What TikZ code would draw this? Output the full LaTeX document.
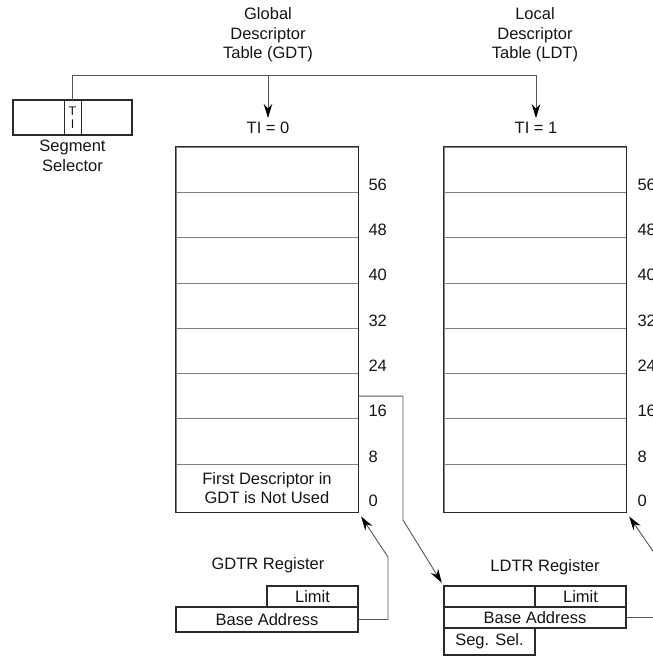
\documentclass[tikz,border=0pt]{standalone}
\usepackage{fontspec}
\setmainfont{Liberation Sans}
\usepackage{xcolor}
\definecolor{dtframe}{HTML}{2A2A2A}
\definecolor{dtrule}{HTML}{808080}
\definecolor{dtlink}{HTML}{555555}
\definecolor{dttext}{HTML}{151515}
\usepackage{tikz}
\usetikzlibrary{arrows.meta,positioning,calc}

\begin{document}
\begin{tikzpicture}[x=1pt,y=-1pt,
  font=\fontsize{16.5}{19.5}\selectfont,text=dttext,
  frame/.style={draw=dtframe,line width=1.3pt},
  slot/.style={draw=dtrule,line width=0.7pt,minimum width=182pt,minimum height=45.3pt,inner sep=0pt,align=center},
  reg/.style={draw=dtframe,line width=1.2pt,minimum height=21pt,inner sep=0pt},
  num/.style={anchor=west,inner sep=0pt},
  link/.style={draw=dtlink,line width=0.9pt},
  tip/.style={-{Stealth[length=14pt,width=8.5pt,color=black]}}]
\useasboundingbox (0,0) rectangle (653,657);
\clip (0,0) rectangle (653,657);

% segment selector and the TI bit
\node[draw=dtframe,line width=1.2pt,minimum width=119pt,minimum height=35pt] (ssel) at (72.5,117.5) {};
\node[draw=dtframe,line width=0.9pt,minimum width=17pt,minimum height=35pt,inner sep=0pt,align=center,font=\fontsize{12.5}{13.5}\selectfont] (tibit) at (ssel.center) {T\\I};
\node[align=center,below=1pt of ssel] (ssellbl) {Segment\\Selector};

% table titles
\node[align=center] (gdtt) at (268,35) {Global\\Descriptor\\Table (GDT)};
\node[align=center] (ldtt) at (535,35) {Local\\Descriptor\\Table (LDT)};
\node[inner sep=4pt] (ti0) at (268,128) {TI = 0};
\node[inner sep=4pt] (ti1) at (536,128) {TI = 1};

% descriptor slots
\foreach \n [count=\i] in {56,48,40,32,24,16,8} {
  \node[slot] (g\n) at (267,{147+45.3*(\i-0.5)}) {};
  \node[slot] (l\n) at (535,{147+45.3*(\i-0.5)}) {};
  \node[num] (gn\n) at ($(g\n.south east)+(10,-8)$) {\n};
  \node[num] (ln\n) at ($(l\n.south east)+(11,-8)$) {\n};
}
\node[slot,minimum height=48pt] (g0) at (267,488) {First Descriptor in\\GDT is Not Used};
\node[slot,minimum height=48pt] (l0) at (535,488) {};
\node[num] (gn0) at ($(g0.south east)+(10,-12)$) {0};
\node[num] (ln0) at ($(l0.south east)+(11,-12)$) {0};
\draw[frame] (g56.north west) rectangle (g0.south east);
\draw[frame] (l56.north west) rectangle (l0.south east);

% GDTR
\node (gdtrlbl) at (268,565) {GDTR Register};
\node[reg,minimum width=91pt] (glim) at (312.5,596.5) {Limit};
\node[reg,minimum width=182pt,minimum height=25pt] (gbase) at (267,619.5) {Base Address};

% LDTR
\node (ldtrlbl) at (545,567) {LDTR Register};
\node[reg,minimum width=91pt] (ldtrl) at (489.5,596.5) {};
\node[reg,minimum width=91pt] (llim) at (580.5,596.5) {Limit};
\node[reg,minimum width=182pt] (lbase) at (535,617.5) {Base Address};
\node[reg,minimum width=91pt,minimum height=27pt] (lsel) at (489.5,641.5) {Seg. Sel.};

% connectors
\coordinate (bus) at (0,75);
\draw[link,tip] (tibit.north) |- (ti1 |- bus) -- (ti1.north);
\draw[link,tip] (ti0 |- bus) -- (ti0.north);

\coordinate (gjog) at (403,520);
\draw[link,tip,shorten >=3pt] (g16.east) -| (gjog) -- (ldtrl.north west);
\coordinate (gbend) at (388,557);
\draw[link,tip,shorten >=5pt] (gbase.east) -| (gbend) -- (g0.south east);
\coordinate (lbend) at (657,557);
\draw[link,tip,shorten >=5pt] (lbase.east) -| (lbend) -- (l0.south east);
\end{tikzpicture}
\end{document}
